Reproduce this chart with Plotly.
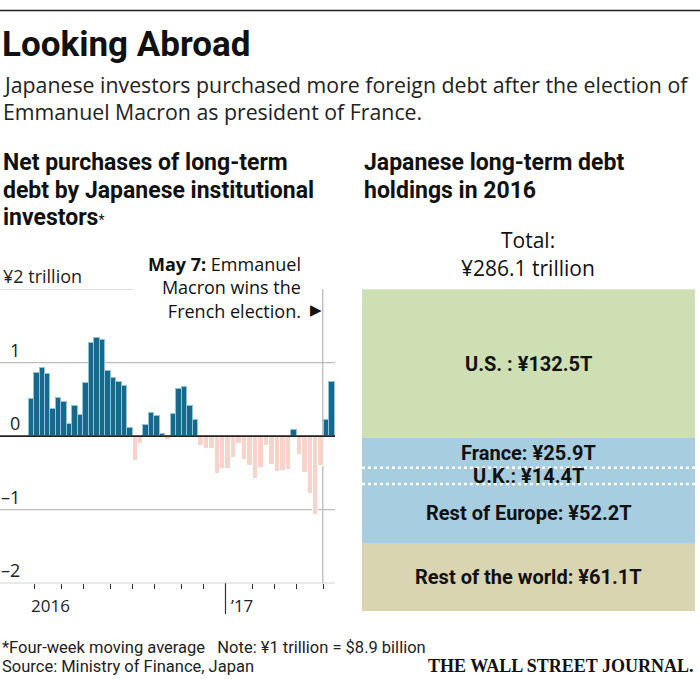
import pandas as pd
import plotly.graph_objects as go

W, H = 700, 679

# ---------------- data ----------------
week_start = "2016-04-24"
net_purchases = [
    0.50, 0.86, 0.93, 0.85, 0.37, 0.52, 0.46, 0.17, 0.41, 0.29,
    0.72, 1.27, 1.34, 1.31, 0.89, 0.79, 0.73, 0.68, 0.11, -0.34,
    -0.11, 0.15, 0.31, 0.28, 0.03, -0.05, 0.30, 0.64, 0.67, 0.41,
    0.22, -0.14, -0.18, -0.17, -0.52, -0.44, -0.44, -0.30, -0.11, -0.33,
    -0.41, -0.58, -0.43, -0.14, -0.39, -0.49, -0.47, -0.46, 0.09, -0.26,
    -0.50, -0.78, -1.07, -0.41, 0.22, 0.74,
]
y_tick_values = [2, 1, 0, -1, -2]
y_tick_labels = ["¥2 trillion", "1", "0", "–1", "–2"]
year_labels = ["2016", "’17"]
event_date = "2017-05-02"

holding_regions = ["Rest of the world", "Rest of Europe", "U.K.", "France", "U.S. "]
holding_values = [61.1, 52.2, 14.4, 25.9, 132.5]
holding_total = 286.1

# ---------------- helpers ----------------
def px(x):
    return x / W

def py(y):
    return 1 - y / H

weeks = pd.date_range(week_start, periods=len(net_purchases), freq="7D")
DAY = 5.47 / 7.0  # pixels per day
x_left = weeks[0] - pd.Timedelta(days=31.3 / DAY)
x_right = weeks[0] + pd.Timedelta(days=(335 - 31.3) / DAY)

POS, NEG = "#16698b", "#f8d3ca"
colors = [POS if v >= 0 else NEG for v in net_purchases]
edge = ["#8fc4dc" if v >= 0 else "#ffffff" for v in net_purchases]

# month boundaries (between weeks)
boundaries = []
for i in range(1, len(weeks)):
    if weeks[i].month != weeks[i - 1].month:
        boundaries.append(weeks[i] - pd.Timedelta(hours=84))
jan_boundary = [b for b in boundaries if (b + pd.Timedelta(hours=84)).month == 1][0]

fig = go.Figure()
fig.add_trace(go.Bar(
    x=weeks, y=net_purchases, marker=dict(color=colors, line=dict(color=edge, width=1.2)),
    xaxis="x", yaxis="y", showlegend=False, hoverinfo="x+y",
))

# right stacked column
seg_colors = {"Rest of the world": "#d9d5b1", "Rest of Europe": "#a7cde0", "U.K.": "#a7cde0",
              "France": "#a7cde0", "U.S. ": "#cfdfb4"}
for reg, val in zip(holding_regions, holding_values):
    fig.add_trace(go.Bar(
        x=[0], y=[val], width=[1], marker=dict(color=seg_colors[reg], line=dict(width=0)),
        xaxis="x2", yaxis="y2", showlegend=False, name=reg,
    ))

LEFT_DOM = [0, px(335)]
fig.update_layout(
    width=W, height=H, margin=dict(l=0, r=0, t=0, b=0),
    paper_bgcolor="white", plot_bgcolor="rgba(0,0,0,0)",
    barmode="stack", bargap=0,
    font=dict(family="Open Sans", color="#222"),
    xaxis=dict(domain=LEFT_DOM, type="date", range=[x_left, x_right], showgrid=False,
               zeroline=False, showline=False, ticks="outside", ticklen=5, tickwidth=1,
               tickcolor="#333", tickvals=boundaries, showticklabels=False, fixedrange=True),
    yaxis=dict(domain=[py(583.3), py(289)], range=[-2, 2], showgrid=False, zeroline=False,
               showticklabels=False, showline=False, fixedrange=True),
    xaxis2=dict(domain=[px(362), px(695.3)], range=[-0.5, 0.5], visible=False, fixedrange=True),
    yaxis2=dict(domain=[py(611.7), py(289.3)], range=[0, holding_total], visible=False, fixedrange=True),
)

shapes = []
# top rule
shapes.append(dict(type="line", xref="paper", yref="paper", x0=0, x1=1, y0=py(10.5), y1=py(10.5),
                   line=dict(color="#222", width=1.5)))
# gridlines
for v in y_tick_values:
    if v == 0:
        continue
    x1 = px(133) if v == 2 else px(335)
    col = "#a9a9a9" if v == -2 else "#bdbdbd"
    shapes.append(dict(type="line", xref="paper", yref="y", x0=0, x1=x1, y0=v, y1=v,
                       line=dict(color=col, width=1.2), layer="below"))
# event line
shapes.append(dict(type="line", xref="x", yref="y", x0=event_date, x1=event_date, y0=-2, y1=2,
                   line=dict(color="#b5b5b5", width=1.2), layer="below"))
# zero line
shapes.append(dict(type="line", xref="paper", yref="y", x0=0, x1=px(335), y0=0, y1=0,
                   line=dict(color="#222", width=1.8)))
# long year tick for '17
shapes.append(dict(type="line", xref="x", yref="paper", x0=jan_boundary, x1=jan_boundary,
                   y0=py(583.3), y1=py(614), line=dict(color="#333", width=1.2)))
# dotted separators inside Europe
cum = 0
cums = []
for v in holding_values:
    cum += v
    cums.append(cum)
for reg, c in zip(holding_regions, cums):
    if reg in ("Rest of Europe", "U.K."):
        shapes.append(dict(type="line", xref="x2", yref="y2", x0=-0.5, x1=0.5, y0=c, y1=c,
                           line=dict(color="white", width=2.5, dash="dot")))
fig.update_layout(shapes=shapes)

ann = []
def text(x, y, s, size, anchor="left", yanchor="middle", bold=False, family="Open Sans",
         color="#222", xref="paper", yref="paper", **kw):
    ann.append(dict(x=x, y=y, xref=xref, yref=yref, text=(f"<b>{s}</b>" if bold else s),
                    showarrow=False, xanchor=anchor, yanchor=yanchor, align=anchor,
                    font=dict(size=size, family=family, color=color), **kw))

text(px(0), py(45), "Looking Abroad", 35, bold=True, family="Roboto", color="#111")
for i, line in enumerate(["Japanese investors purchased more foreign debt after the election of",
                          "Emmanuel Macron as president of France."]):
    text(px(1), py(84 + 28 * i), line, 21.3, color="#222")
left_title = ["Net purchases of long-term", "debt by Japanese institutional", "investors"]
for i, line in enumerate(left_title):
    s = f"<b>{line}</b>"
    if i == 2:
        s += "<span style='font-size:14px'>*</span>"
    text(px(1), py(162 + 28 * i), s, 23, family="Roboto", color="#111")
for i, line in enumerate(["Japanese long-term debt", "holdings in 2016"]):
    text(px(362), py(162 + 28 * i), line, 23, bold=True, family="Roboto", color="#111")
for i, line in enumerate(["Total:", "¥286.1 trillion"]):
    text(px(528), py(240 + 28 * i), line, 21, anchor="center", color="#111")

# y tick labels
for v, lab in zip(y_tick_values, y_tick_labels):
    if v == 2:
        text(px(1), v, lab, 18, yref="y", yshift=13)
    else:
        text(px(22), v, lab, 18, anchor="right", yref="y", yshift=13)

# year labels
text(weeks[0] + pd.Timedelta(days=25), py(605), year_labels[0], 17, anchor="center", xref="x")
text(jan_boundary + pd.Timedelta(days=4), py(605), year_labels[1], 17, anchor="left", xref="x")

# event note
text(px(303), py(287), "<b>May 7:</b> Emmanuel<br>Macron wins the<br>French election.", 18,
     anchor="right", color="#111")
text(px(316), py(310), "▶", 15, anchor="center", family="DejaVu Sans", color="#111")

# segment labels
prev = 0
for reg, val, c in zip(holding_regions, holding_values, cums):
    mid = (prev + c) / 2
    prev = c
    text(0, mid, f"{reg}: ¥{val}T", 20, anchor="center", bold=True, family="Roboto",
         color="#111", xref="x2", yref="y2")

# footer
text(px(0), py(647), "*Four-week moving average   Note: ¥1 trillion = $8.9 billion", 16.5,
     family="Roboto", color="#222")
text(px(0), py(666), "Source: Ministry of Finance, Japan", 16.5,
     family="Roboto", color="#222")
text(px(695), py(666), "THE WALL STREET JOURNAL.", 18, anchor="right", bold=True,
     family="Liberation Serif", color="#111")

fig.update_layout(annotations=ann)
fig.write_html("out.html", config={"displayModeBar": False},
               post_script="document.body.style.margin='0';document.body.style.padding='0';")
